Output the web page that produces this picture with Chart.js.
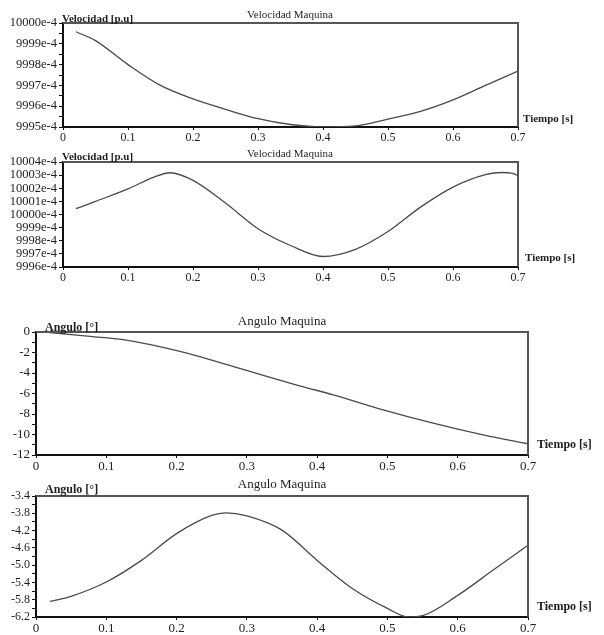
<!DOCTYPE html>
<html>
<head>
<meta charset="utf-8">
<script src="https://cdn.jsdelivr.net/npm/chart.js@4"></script>
<style>
  body { margin: 0; background: #fff; }
  canvas { position: absolute; left: 0; }
</style>
</head>
<body>
<canvas id="c1" width="604" height="145" style="top:0px"></canvas>
<canvas id="c2" width="604" height="140" style="top:145px"></canvas>
<canvas id="c3" width="604" height="175" style="top:300px"></canvas>
<canvas id="c4" width="604" height="160" style="top:475px"></canvas>
<script>
// velocidad maquina (values in e-4 p.u.)
const vel1T = [0.02, 0.05, 0.1, 0.15, 0.2, 0.25, 0.3, 0.35, 0.4, 0.45, 0.5, 0.55, 0.6, 0.65, 0.7];
const vel1V = [9999.58, 9999.15, 9998.0, 9997.0, 9996.35, 9995.85, 9995.4, 9995.12, 9995.0, 9995.05, 9995.38, 9995.75, 9996.3, 9997.0, 9997.69];

const vel2T = [0.02, 0.05, 0.1, 0.14, 0.165, 0.2, 0.25, 0.3, 0.35, 0.4, 0.45, 0.5, 0.55, 0.6, 0.65, 0.675, 0.69, 0.7];
const vel2V = [10000.44, 10001.0, 10001.95, 10002.85, 10003.18, 10002.6, 10000.87, 9998.92, 9997.64, 9996.8, 9997.35, 9998.7, 10000.56, 10002.09, 10003.04, 10003.2, 10003.15, 10002.98];

// angulo maquina (grados)
const ang1T = [0.02, 0.077, 0.124, 0.205, 0.28, 0.375, 0.423, 0.494, 0.565, 0.636, 0.70];
const ang1V = [-0.05, -0.43, -0.75, -1.9, -3.36, -5.25, -6.13, -7.6, -8.9, -10.04, -10.92];

const ang2T = [0.02, 0.05, 0.1, 0.15, 0.2, 0.25, 0.27, 0.3, 0.35, 0.4, 0.45, 0.5, 0.53, 0.55, 0.6, 0.65, 0.7];
const ang2V = [-5.84, -5.72, -5.39, -4.89, -4.27, -3.85, -3.79, -3.86, -4.19, -4.89, -5.54, -6.0, -6.2, -6.17, -5.7, -5.12, -4.54];

const xTicks = [0, 0.1, 0.2, 0.3, 0.4, 0.5, 0.6, 0.7];

const FONT = 'Liberation Serif';
const INK = '#1e1e1e';

function makeChart(id, o) {
  const pts = o.t.map((t, i) => ({ x: t, y: o.v[i] }));
  const labels = {
    id: 'labels',
    afterDraw(chart) {
      const { ctx, chartArea: a } = chart;
      ctx.save();
      // frame
      ctx.strokeStyle = '#555';
      ctx.lineWidth = 2;
      ctx.beginPath();
      ctx.moveTo(a.left, a.top);
      ctx.lineTo(a.right, a.top);
      ctx.lineTo(a.right, a.bottom);
      ctx.stroke();
      ctx.fillStyle = INK;
      ctx.textBaseline = 'middle';
      ctx.font = o.titleFont + 'px "' + FONT + '"';
      ctx.textAlign = 'center';
      ctx.fillText(o.title, o.titleX, o.titleY);
      ctx.font = 'bold ' + o.labFont + 'px "' + FONT + '"';
      ctx.textAlign = 'left';
      ctx.fillText(o.ylab, o.ylabX, o.ylabY);
      ctx.fillText('Tiempo [s]', o.tX, o.tY);
      ctx.restore();
    }
  };
  return new Chart(document.getElementById(id), {
    type: 'line',
    data: { datasets: [{ data: pts, borderColor: '#4a4a4a', borderWidth: 1.3, pointRadius: 0, cubicInterpolationMode: 'monotone', fill: false }] },
    options: {
      responsive: false,
      animation: false,
      layout: { padding: { top: o.padTop, right: o.padRight, left: 0, bottom: 0 } },
      plugins: { legend: { display: false }, tooltip: { enabled: false } },
      scales: {
        x: {
          type: 'linear', min: 0, max: 0.7,
          afterBuildTicks: s => { s.ticks = xTicks.map(v => ({ value: v })); },
          afterFit: s => { s.height = o.xH; },
          border: { color: '#111', width: 2 },
          grid: { drawOnChartArea: false, tickLength: 3, color: '#111' },
          ticks: { padding: o.xPad, color: INK, font: { family: FONT, size: o.tickFont }, maxRotation: 0,
                   callback: v => v === 0 ? '0' : v.toFixed(1) }
        },
        y: {
          min: o.yMin, max: o.yMax,
          ticks: { stepSize: o.step, autoSkip: false, padding: 2, color: INK, font: { family: FONT, size: o.yTickFont },
                   callback: o.yFmt },
          afterFit: s => { s.width = o.yW; },
          border: { color: '#111', width: 2 },
          grid: { drawOnChartArea: false, tickLength: 4, color: '#111' }
        }
      }
    },
    plugins: [labels]
  });
}

makeChart('c1', {
  t: vel1T, v: vel1V, yMin: 9995, yMax: 10000, step: 0.5,
  yFmt: (v, i) => i % 2 === 0 ? Math.round(v) + 'e-4' : '',
  padTop: 23, padRight: 86, xH: 18, xPad: 1, yW: 63, tickFont: 12, yTickFont: 12.5,
  title: 'Velocidad Maquina', titleFont: 11, titleX: 290, titleY: 15,
  ylab: 'Velocidad [p.u]', labFont: 11, ylabX: 62, ylabY: 19, tX: 523, tY: 119
});

makeChart('c2', {
  t: vel2T, v: vel2V, yMin: 9996, yMax: 10004, step: 1,
  yFmt: v => Math.round(v) + 'e-4',
  padTop: 17, padRight: 86, xH: 18, xPad: 1, yW: 63, tickFont: 12, yTickFont: 12.5,
  title: 'Velocidad Maquina', titleFont: 11, titleX: 290, titleY: 9,
  ylab: 'Velocidad [p.u]', labFont: 11, ylabX: 62, ylabY: 12, tX: 525, tY: 113
});

makeChart('c3', {
  t: ang1T, v: ang1V, yMin: -12, yMax: 0, step: 1,
  yFmt: (v, i) => i % 2 === 0 ? String(Math.round(v)) : '',
  padTop: 32, padRight: 76, xH: 20, xPad: 1, yW: 36, tickFont: 13, yTickFont: 13,
  title: 'Angulo Maquina', titleFont: 13, titleX: 282, titleY: 22,
  ylab: 'Angulo [°]', labFont: 12, ylabX: 45, ylabY: 28, tX: 537, tY: 145
});

makeChart('c4', {
  t: ang2T, v: ang2V, yMin: -6.2, yMax: -3.4, step: 0.2,
  yFmt: (v, i) => i % 2 === 0 ? v.toFixed(1) : '',
  padTop: 21, padRight: 76, xH: 18, xPad: 1, yW: 36, tickFont: 13, yTickFont: 12,
  title: 'Angulo Maquina', titleFont: 13, titleX: 282, titleY: 10,
  ylab: 'Angulo [°]', labFont: 12, ylabX: 45, ylabY: 15, tX: 537, tY: 132
});
</script>
</body>
</html>
